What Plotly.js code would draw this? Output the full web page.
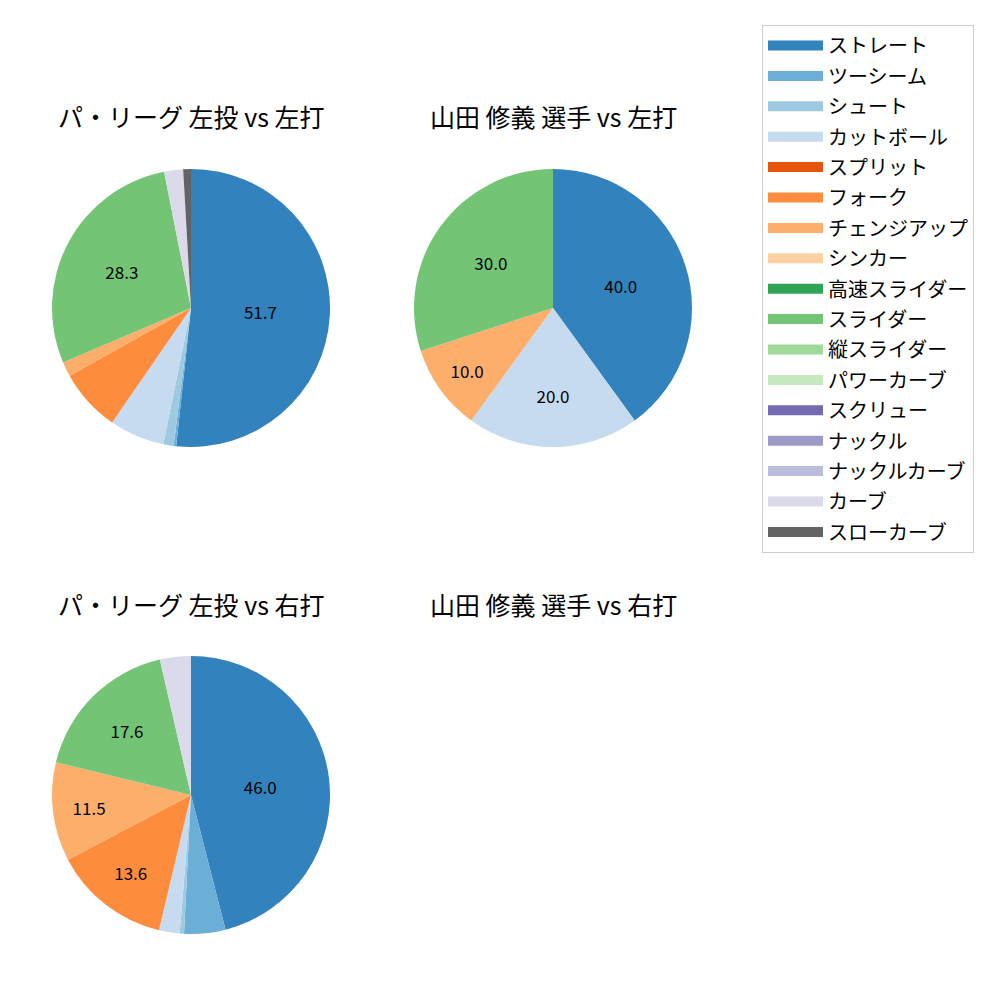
<!DOCTYPE html>
<html><head><meta charset="utf-8">
<script src="https://cdn.plot.ly/plotly-3.0.1.min.js"></script>
<style>body{margin:0}#c{width:1000px;height:1000px}</style>
</head><body><div id="c"></div>
<script>
const pitchTypes = ["ストレート","ツーシーム","シュート","カットボール","スプリット","フォーク","チェンジアップ","シンカー","高速スライダー","スライダー","縦スライダー","パワーカーブ","スクリュー","ナックル","ナックルカーブ","カーブ","スローカーブ"];
const pitchColors = ["#3182bd","#6baed6","#9ecae1","#c6dbef","#e6550d","#fd8d3c","#fdae6b","#fdd0a2","#31a354","#74c476","#a1d99b","#c7e9c0","#756bb1","#9e9ac8","#bcbddc","#dadaeb","#636363"];

const titles = ["パ・リーグ 左投 vs 左打","山田 修義 選手 vs 左打","パ・リーグ 左投 vs 右打","山田 修義 選手 vs 右打"];

const leagueLLabels = ["ストレート","ツーシーム","シュート","カットボール","フォーク","チェンジアップ","スライダー","カーブ","スローカーブ"];
const leagueLValues = [51.7,0.3,1.2,6.4,7.3,1.7,28.3,2.2,0.9];

const playerLLabels = ["ストレート","カットボール","チェンジアップ","スライダー"];
const playerLValues = [40.0,20.0,10.0,30.0];

const leagueRLabels = ["ストレート","ツーシーム","シュート","カットボール","フォーク","チェンジアップ","スライダー","カーブ"];
const leagueRValues = [46.0,4.8,0.5,2.4,13.6,11.5,17.6,3.6];

const FONT = "Noto Sans CJK JP, Noto Sans, sans-serif";
const colorOf = l => pitchColors[pitchTypes.indexOf(l)];

function pieTrace(labels, values, dx, dy){
  return {
    type:"pie", labels:labels, values:values, sort:false, direction:"clockwise", rotation:0,
    marker:{colors:labels.map(colorOf), line:{width:0}},
    text: values.map(v => v >= 10 ? v.toFixed(1) : ""),
    textinfo:"text", textposition:"inside", insidetextorientation:"horizontal",
    textfont:{family:FONT, size:17, color:"#000"},
    hoverinfo:"label+value",
    domain:{x:dx, y:dy}, showlegend:false
  };
}

const data = [];
pitchTypes.forEach((p,i)=>{
  data.push({type:"scatter", x:[null], y:[null], mode:"lines", line:{color:pitchColors[i], width:14},
    name:p, legendgroup:"g"+i, showlegend:true, hoverinfo:"skip"});
});
data.push(pieTrace(leagueLLabels, leagueLValues, [0.052,0.330],[0.553,0.831]));
data.push(pieTrace(playerLLabels, playerLValues, [0.414,0.692],[0.553,0.831]));
data.push(pieTrace(leagueRLabels, leagueRValues, [0.052,0.330],[0.066,0.344]));

const titlePos = [[0.191,0.884],[0.553,0.884],[0.191,0.396],[0.553,0.396]];
const annotations = titles.map((t,i)=>({text:t, x:titlePos[i][0], y:titlePos[i][1], xref:"paper", yref:"paper",
  showarrow:false, xanchor:"center", yanchor:"middle", font:{family:FONT, size:25, color:"#000"}}));

const layout = {
  width:1000, height:1000, margin:{l:0,r:0,t:0,b:0},
  paper_bgcolor:"#fff", plot_bgcolor:"#fff",
  xaxis:{visible:false}, yaxis:{visible:false},
  annotations:annotations,
  showlegend:true,
  legend:{x:0.762, y:0.975, xanchor:"left", yanchor:"top", bgcolor:"#fff", bordercolor:"#ccc", borderwidth:1,
    font:{family:FONT, size:20, color:"#000"}, tracegroupgap:1.4, traceorder:"grouped", itemwidth:55}
};
Plotly.newPlot("c", data, layout, {displayModeBar:false});
</script></body></html>
